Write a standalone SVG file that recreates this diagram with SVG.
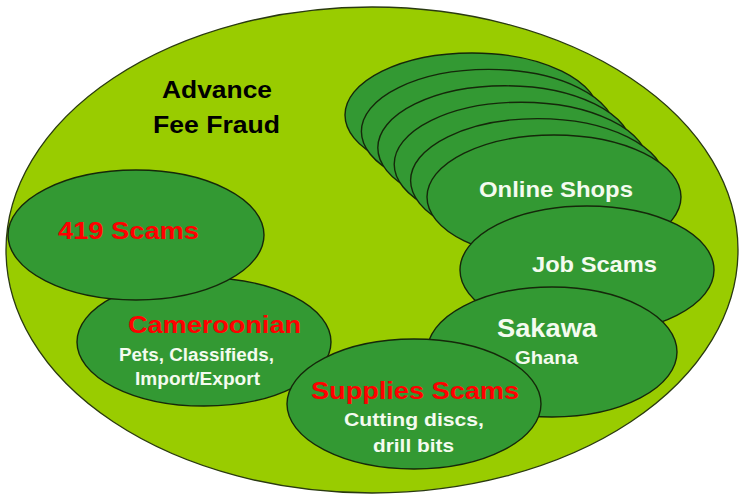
<svg xmlns="http://www.w3.org/2000/svg" width="748" height="503" viewBox="0 0 748 503">
  <style>
    .outer { fill: #99CC00; stroke: #2a3a10; stroke-width: 1.3; }
    .node { fill: #339933; stroke: #15280a; stroke-width: 1.4; }
    text { font-family: "Liberation Sans", Arial, sans-serif; font-weight: bold; }
    .black { fill: #000000; font-size: 24px; }
    .red { fill: #FF0000; font-size: 24px; }
    .white { fill: #F4FBEF; }
  </style>
  <rect width="748" height="503" fill="#FFFFFF"/>
  <g id="advance-fee-fraud">
    <ellipse class="outer" cx="372" cy="250" rx="366" ry="243"/>
    <text class="black" x="162" y="98" textLength="110" lengthAdjust="spacingAndGlyphs">Advance</text>
    <text class="black" x="153" y="133" textLength="127" lengthAdjust="spacingAndGlyphs">Fee Fraud</text>
  </g>
  <g id="online-shops">
    <ellipse class="node" cx="472" cy="115" rx="127" ry="62"/>
    <ellipse class="node" cx="488.4" cy="131.4" rx="127" ry="62"/>
    <ellipse class="node" cx="504.8" cy="147.8" rx="127" ry="62"/>
    <ellipse class="node" cx="521.2" cy="164.2" rx="127" ry="62"/>
    <ellipse class="node" cx="537.6" cy="180.6" rx="127" ry="62"/>
    <ellipse class="node" cx="554" cy="197" rx="127" ry="62"/>
    <text class="white" x="479" y="197" font-size="22" textLength="154" lengthAdjust="spacingAndGlyphs">Online Shops</text>
  </g>
  <g id="job-scams">
    <ellipse class="node" cx="587" cy="270" rx="127" ry="64"/>
    <text class="white" x="532" y="272" font-size="22" textLength="125" lengthAdjust="spacingAndGlyphs">Job Scams</text>
  </g>
  <g id="sakawa">
    <ellipse class="node" cx="552" cy="352" rx="125" ry="65"/>
    <text class="white" x="497" y="337" font-size="25" textLength="100" lengthAdjust="spacingAndGlyphs">Sakawa</text>
    <text class="white" x="515" y="364" font-size="19" textLength="63" lengthAdjust="spacingAndGlyphs">Ghana</text>
  </g>
  <g id="cameroonian">
    <ellipse class="node" cx="204" cy="342" rx="127" ry="64"/>
    <text class="red" x="128" y="333" textLength="173" lengthAdjust="spacingAndGlyphs">Cameroonian</text>
    <text class="white" x="119" y="361" font-size="18" textLength="155" lengthAdjust="spacingAndGlyphs">Pets, Classifieds,</text>
    <text class="white" x="135" y="385" font-size="18" textLength="125" lengthAdjust="spacingAndGlyphs">Import/Export</text>
  </g>
  <g id="supplies-scams">
    <ellipse class="node" cx="414" cy="404" rx="127" ry="65"/>
    <text class="red" x="311" y="399" textLength="208" lengthAdjust="spacingAndGlyphs">Supplies Scams</text>
    <text class="white" x="344" y="426" font-size="19" textLength="140" lengthAdjust="spacingAndGlyphs">Cutting discs,</text>
    <text class="white" x="373" y="452" font-size="19" textLength="81" lengthAdjust="spacingAndGlyphs">drill bits</text>
  </g>
  <g id="scams-419">
    <ellipse class="node" cx="136" cy="235" rx="128" ry="65"/>
    <text class="red" x="58" y="239" textLength="141" lengthAdjust="spacingAndGlyphs">419 Scams</text>
  </g>
  <g id="connectors"/>
</svg>
